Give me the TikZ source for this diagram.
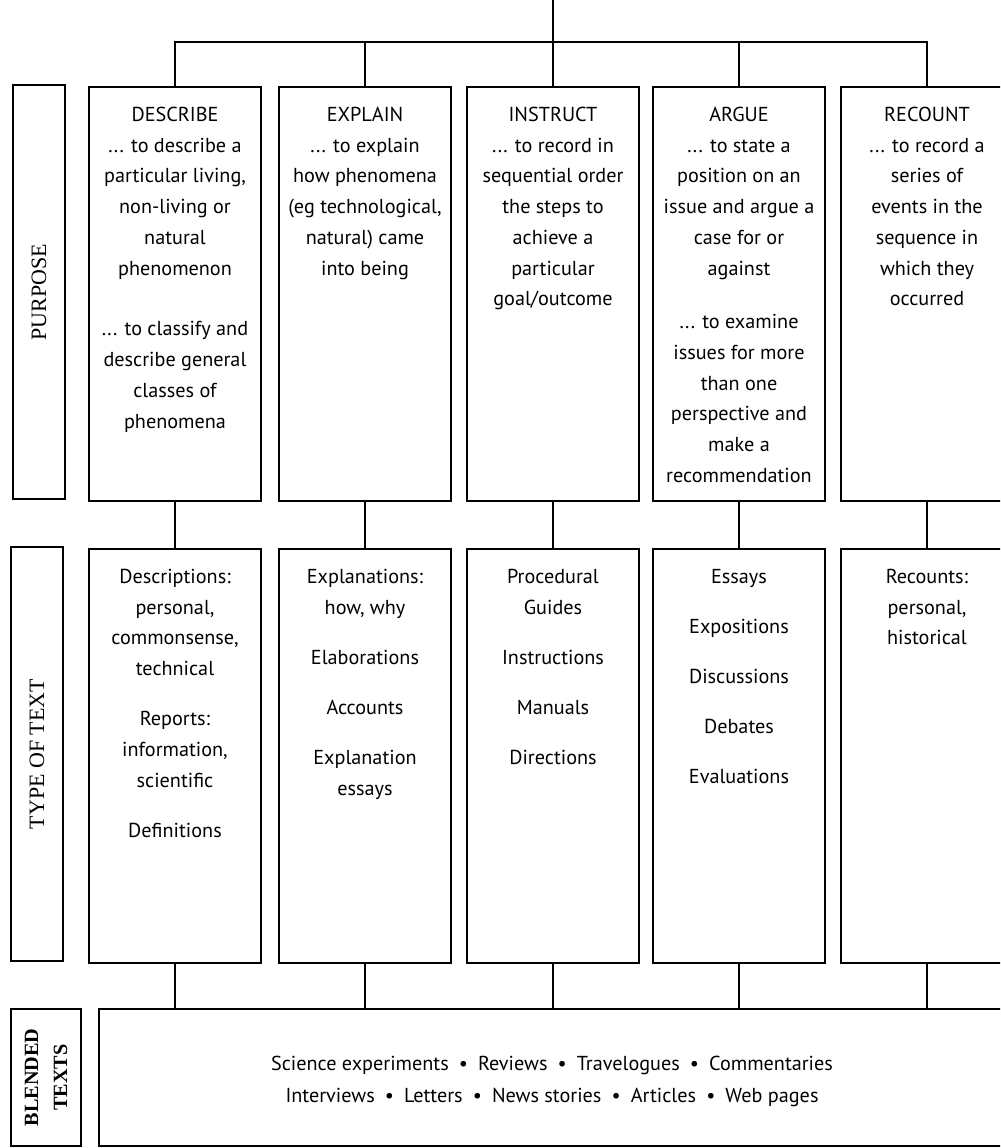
\documentclass[tikz,border=0pt]{standalone}
\usepackage{fontspec}
\setmainfont{PT Sans}
\newfontfamily\capsfont{Liberation Serif}
\usetikzlibrary{positioning,calc}
\newcommand{\colw}{3.44cm}
\newcommand{\rowh}{8.28cm}

\begin{document}
\begin{tikzpicture}[x=0.02cm,y=-0.02cm,line width=0.9pt,
  box/.style={draw,minimum width=\colw,minimum height=\rowh,inner sep=0pt},
  sidebox/.style={draw,minimum width=1.04cm,minimum height=\rowh,inner sep=0pt},
  wide/.style={draw,minimum height=2.74cm,inner sep=0pt},
  sidelabel/.style={rotate=90,font=\capsfont\fontsize{12.5}{16}\selectfont},
  boxtext/.style={anchor=north,align=center,inner sep=0pt,font=\fontsize{11.5}{17.5}\selectfont}]
\useasboundingbox (0,0) rectangle (1000,1148);
\clip (0,0) rectangle (1000,1148);
\coordinate (top) at (553,0);
\coordinate (bar) at (553,42);
\foreach \h/\x in {1/175,2/365,3/553,4/739,5/927}{
\node[box] (p\h) at (\x,294) {};
\node[box] (t\h) at (\x,756) {};
}
\node[sidebox] (lp) at (39,292) {};
\node[sidebox] (lt) at (37,754) {};
\node[wide,minimum width=1.4cm] (lb) at (46,1077.5) {};
\node[wide,minimum width=18.28cm] (blend) at (556,1077.5) {};

\draw (top) -- (p3.north);
\draw (p1.north) -- (p1.north |- bar) -- (p5.north |- bar) -- (p5.north);
\foreach \h in {2,4}{
\draw (p\h.north) -- (p\h.north |- bar);
}
\foreach \h in {1,...,5}{
\draw (p\h.south) -- (t\h.north);
\draw (t\h.south) -- (t\h.south |- blend.north);
}

\node[sidelabel] (lptxt) at (lp) {PURPOSE};
\node[sidelabel] (lttxt) at (lt) {TYPE OF TEXT};
\node[sidelabel,align=center,font=\capsfont\bfseries\fontsize{11.5}{16.5}\selectfont] (lbtxt) at (lb) {BLENDED\\TEXTS};

\node[boxtext,below=0.4cm of p1.north] (p1txt) {DESCRIBE\\... to describe a\\particular living,\\non-living or\\natural\\phenomenon\\[17pt]... to classify and\\describe general\\classes of\\phenomena};
\node[boxtext,below=0.4cm of p2.north] (p2txt) {EXPLAIN\\... to explain\\how phenomena\\(eg technological,\\natural) came\\into being};
\node[boxtext,below=0.4cm of p3.north] (p3txt) {INSTRUCT\\... to record in\\sequential order\\the steps to\\achieve a\\particular\\goal/outcome};
\node[boxtext,below=0.4cm of p4.north] (p4txt) {ARGUE\\... to state a\\position on an\\issue and argue a\\case for or\\against\\[13pt]... to examine\\issues for more\\than one\\perspective and\\make a\\recommendation};
\node[boxtext,below=0.4cm of p5.north] (p5txt) {RECOUNT\\... to record a\\series of\\events in the\\sequence in\\which they\\occurred};

\node[boxtext,below=0.4cm of t1.north] (t1txt) {Descriptions:\\personal,\\commonsense,\\technical\\[11pt]Reports:\\information,\\scientific\\[11pt]Definitions};
\node[boxtext,below=0.4cm of t2.north] (t2txt) {Explanations:\\how, why\\[11pt]Elaborations\\[11pt]Accounts\\[11pt]Explanation\\essays};
\node[boxtext,below=0.4cm of t3.north] (t3txt) {Procedural\\Guides\\[11pt]Instructions\\[11pt]Manuals\\[11pt]Directions};
\node[boxtext,below=0.4cm of t4.north] (t4txt) {Essays\\[11pt]Expositions\\[11pt]Discussions\\[11pt]Debates\\[11pt]Evaluations};
\node[boxtext,below=0.4cm of t5.north] (t5txt) {Recounts:\\personal,\\historical};

\node[align=center,inner sep=0pt,font=\fontsize{11.5}{18}\selectfont] (blendtxt) at ($(blend.center)+(-4,4)$) {Science experiments\enskip\textbullet\enskip Reviews\enskip\textbullet\enskip Travelogues\enskip\textbullet\enskip Commentaries\\Interviews\enskip\textbullet\enskip Letters\enskip\textbullet\enskip News stories\enskip\textbullet\enskip Articles\enskip\textbullet\enskip Web pages};
\end{tikzpicture}
\end{document}
